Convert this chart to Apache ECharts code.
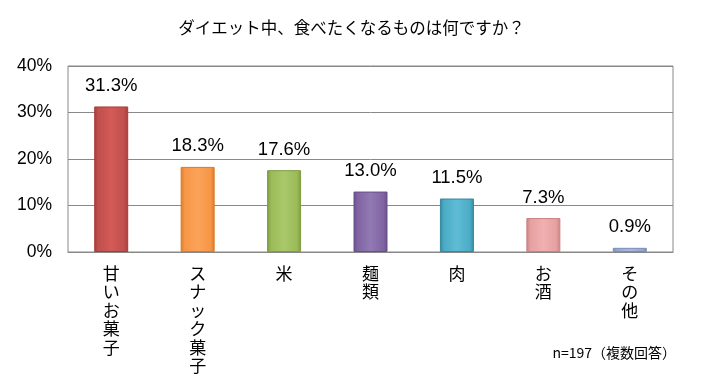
<!DOCTYPE html>
<html><head><meta charset="utf-8">
<script src="https://cdn.jsdelivr.net/npm/echarts@6/dist/echarts.min.js"></script>
<style>html,body{margin:0;padding:0;background:#fff}#c{width:703px;height:392px}</style>
</head><body><div id="c"></div>
<script>
const categories = ['甘いお菓子','スナック菓子','米','麺類','肉','お酒','その他'];
const values = [31.3, 18.3, 17.6, 13.0, 11.5, 7.3, 0.9];
const yTicks = [0, 10, 20, 30, 40];
const barColors = [
  ['#a83c3a','#d35a57','#c0504d'],
  ['#d97a2a','#fba35a','#f79646'],
  ['#7f9c42','#a9c86a','#9bbb59'],
  ['#66508a','#9179b3','#8064a2'],
  ['#36889e','#5fbcd4','#4bacc6'],
  ['#c98282','#f0b0b0','#e6a0a0'],
  ['#7a8cb8','#aab8dd','#95a7d1']
];
const font = '"Noto Sans CJK JP", sans-serif';
const chart = echarts.init(document.getElementById('c'));
chart.setOption({
  animation: false,
  title: {
    text: 'ダイエット中、食べたくなるものは何ですか？',
    left: 'center', top: 14,
    textStyle: { fontFamily: font, fontSize: 16.5, fontWeight: 'normal', color: '#000' }
  },
  graphic: [{
    type: 'text', right: 27, top: 346,
    style: { text: 'n=197（複数回答）', font: '14px ' + font, fill: '#000' }
  }],
  grid: { left: 68, right: 30, top: 66, bottom: 140, show: true, borderColor: '#888', borderWidth: 1 },
  xAxis: {
    type: 'category', data: categories,
    axisLine: { lineStyle: { color: '#888' } },
    axisTick: { inside: true, length: 5, lineStyle: { color: '#888' } },
    axisLabel: {
      interval: 0, margin: 12, fontFamily: font, fontSize: 17, lineHeight: 18.5, color: '#000',
      verticalAlign: 'top',
      formatter: v => v.split('').join('\n')
    }
  },
  yAxis: {
    type: 'value', min: 0, max: 40, interval: 10,
    axisLine: { show: false }, axisTick: { show: false },
    splitLine: { lineStyle: { color: '#888' } },
    axisLabel: { fontFamily: 'Liberation Sans, Arial, sans-serif', fontSize: 17.5, color: '#000', margin: 16,
      formatter: v => yTicks.includes(v) ? v + '%' : '' }
  },
  series: [{
    type: 'bar', barWidth: 34,
    data: values.map((v, i) => ({
      value: v,
      itemStyle: {
        color: new echarts.graphic.LinearGradient(0, 0, 1, 0, [
          { offset: 0, color: barColors[i][0] },
          { offset: 0.12, color: barColors[i][2] },
          { offset: 0.5, color: barColors[i][1] },
          { offset: 0.88, color: barColors[i][2] },
          { offset: 1, color: barColors[i][0] }
        ]),
        borderColor: barColors[i][0], borderWidth: 1
      }
    })),
    label: {
      show: true, position: 'top', distance: 11,
      fontFamily: 'Liberation Sans, Arial, sans-serif', fontSize: 18.5, color: '#000',
      formatter: p => p.value.toFixed(1) + '%'
    }
  }]
});
</script></body></html>
